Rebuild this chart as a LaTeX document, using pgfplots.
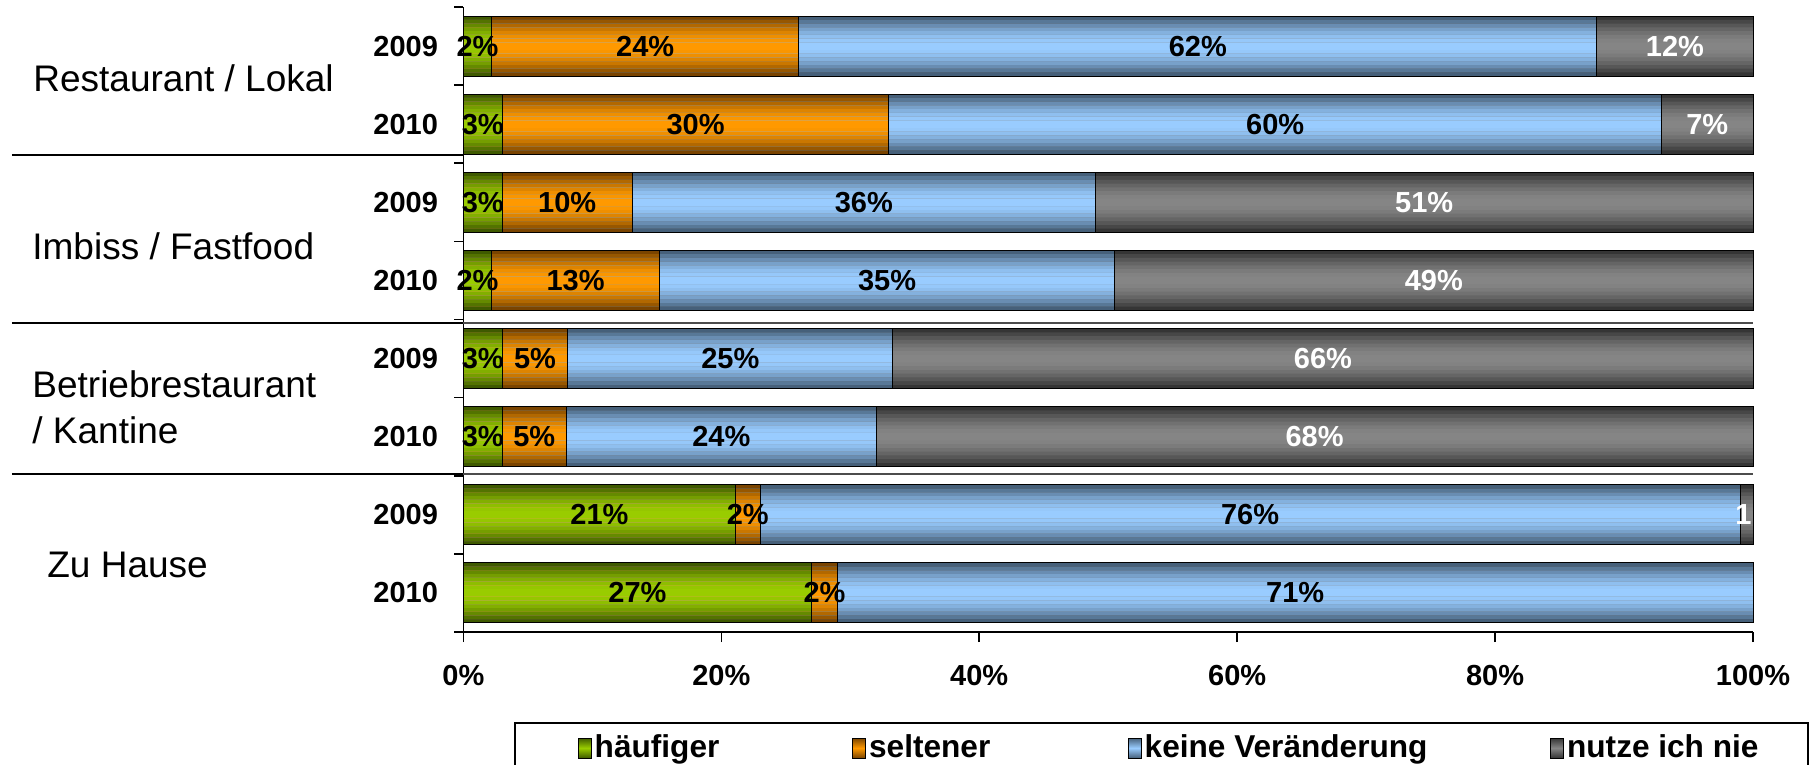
\documentclass[border=0pt]{standalone}
\usepackage{fontspec}
\setmainfont{Liberation Sans}
\usepackage{pgfplots}
\usepackage{pgfplotstable}
\pgfplotsset{compat=1.18}
\definecolor{gD}{HTML}{3F5A00}\definecolor{gM}{HTML}{99CC00}
\definecolor{oD}{HTML}{7A4400}\definecolor{oM}{HTML}{FF9900}
\definecolor{bD}{HTML}{46607A}\definecolor{bM}{HTML}{99CCFF}
\definecolor{kD}{HTML}{353535}\definecolor{kM}{HTML}{858585}
\newcommand\lbl{\bfseries\fontsize{14.5}{16}\selectfont}
\newcommand\cat{\fontsize{18.5}{23}\selectfont}

\pgfplotstableread{
y g o b n
0 2.2 23.8 61.9 12.1
1 3.0 30.0 59.9 7.1
2 3.0 10.1 35.9 51.0
3 2.2 13.0 35.3 49.5
4 3.0 5.1 25.2 66.7
5 3.0 5.0 24.0 68.0
6 21.1 1.9 76.0 1.0
7 27.0 2.0 71.0 0.0
}\bars

\pgfplotstableread{
x y l
1.1 0 2
14.1 0 24
56.95 0 62
1.5 1 3
18.0 1 30
62.95 1 60
1.5 2 3
8.05 2 10
31.05 2 36
1.1 3 2
8.7 3 13
32.85 3 35
1.5 4 3
5.55 4 5
20.7 4 25
1.5 5 3
5.5 5 5
20.0 5 24
10.55 6 21
22.05 6 2
61.0 6 76
13.5 7 27
28.0 7 2
64.5 7 71
}\blacklabels

\pgfplotstableread{
x y l
93.95 0 12
96.45 1 7
74.5 2 51
75.25 3 49
66.65 4 66
66.0 5 68
}\whitelabels

\pgfplotstableread{
x y l
99.25 6 1
}\onelabel

\pgfplotsset{
  seg/.style={forget plot, xbar, bar shift=0pt, bar width=#1, draw=none},
  barlbl/.style={forget plot, only marks, mark=none,
    point meta=explicit symbolic, nodes near coords={\pgfplotspointmeta\%},
    every node near coord/.append style={anchor=center, font=\lbl, inner sep=0pt}},
}
% one gradient layer: bar width, percentage of the bright colour
\newcommand\layer[2]{%
\addplot[seg=#1, fill=kM!#2!kD] table[x expr=\thisrow{g}+\thisrow{o}+\thisrow{b}+\thisrow{n}, y=y] {\bars};
\addplot[seg=#1, fill=bM!#2!bD] table[x expr=\thisrow{g}+\thisrow{o}+\thisrow{b}, y=y] {\bars};
\addplot[seg=#1, fill=oM!#2!oD] table[x expr=\thisrow{g}+\thisrow{o}, y=y] {\bars};
\addplot[seg=#1, fill=gM!#2!gD] table[x=g, y=y] {\bars};
}
\newcommand\legimg[2]{\addlegendimage{legend image code/.code={\draw[draw=black, line width=0.4pt, top color=#1, bottom color=#1, middle color=#2] (0pt,-5pt) rectangle (6.5pt,5pt);}}}

\begin{document}
\begin{tikzpicture}
\path[use as bounding box] (-231.7pt,-66.5pt) rectangle (674.3pt,316pt);
\begin{axis}[
  at={(0,0)}, anchor=south west,
  scale only axis, width=644.8pt, height=312.5pt,
  xmin=0, xmax=100, ymin=-0.5, ymax=7.5, y dir=reverse,
  axis x line*=bottom, axis y line*=left,
  axis line style={line width=0.8pt, black},
  xtick={0,20,...,100}, xticklabels={0\%,20\%,40\%,60\%,80\%,100\%},
  ytick={0,...,7}, yticklabels={2009,2010,2009,2010,2009,2010,2009,2010},
  minor ytick={-0.5,0.5,...,7.5},
  tick align=outside, major tick length=5pt, minor tick length=4.5pt,
  every major y tick/.append style={draw=none},
  tick style={black, line width=0.8pt},
  ticklabel style={font=\lbl, inner sep=0pt},
  xticklabel style={yshift=-11.5pt},
  yticklabel style={xshift=-7.5pt},
  clip=false,
  legend columns=4,
  legend style={at={(0.0885,-0.1856)}, anchor=west, draw=none, fill=none,
    inner sep=0pt, font=\bfseries\fontsize{15.8}{17}\selectfont,
    /tikz/every even column/.append style={column sep=0pt},
    nodes={inner xsep=1.5pt, inner ysep=0pt}},
]
\legimg{gD}{gM}\addlegendentry{\makebox[127.3pt][l]{häufiger}}
\legimg{oD}{oM}\addlegendentry{\makebox[127.9pt][l]{seltener}}
\legimg{bD}{bM}\addlegendentry{\makebox[201.3pt][l]{keine Veränderung}}
\legimg{kD}{kM}\addlegendentry{nutze ich nie}
% gradient layers (outer dark -> inner bright)
\layer{0.768}{0}
\layer{0.672}{22}
\layer{0.576}{42}
\layer{0.480}{60}
\layer{0.384}{75}
\layer{0.288}{88}
\layer{0.192}{96}
\layer{0.096}{100}
% outlines
\addplot[seg=0.768, draw=black, line width=0.5pt, fill=none] table[x expr=\thisrow{g}+\thisrow{o}+\thisrow{b}+\thisrow{n}, y=y] {\bars};
\addplot[seg=0.768, draw=black, line width=0.5pt, fill=none] table[x expr=\thisrow{g}+\thisrow{o}+\thisrow{b}, y=y] {\bars};
\addplot[seg=0.768, draw=black, line width=0.5pt, fill=none] table[x expr=\thisrow{g}+\thisrow{o}, y=y] {\bars};
\addplot[seg=0.768, draw=black, line width=0.5pt, fill=none] table[x=g, y=y] {\bars};
% value labels
\addplot[barlbl, every node near coord/.append style={text=black}] table[x=x, y=y, meta=l] {\blacklabels};
\addplot[barlbl, every node near coord/.append style={text=white}] table[x=x, y=y, meta=l] {\whitelabels};
\addplot[barlbl, nodes near coords={\pgfplotspointmeta}, every node near coord/.append style={text=white}] table[x=x, y=y, meta=l] {\onelabel};
\end{axis}
% group separators
\draw[line width=0.8pt] (-225.7pt,238.5pt) -- (0pt,238.5pt);
\draw[line width=0.8pt] (-225.7pt,154.5pt) -- (0pt,154.5pt);
\draw[line width=0.8pt, black!70] (0pt,154.5pt) -- (644.8pt,154.5pt);
\draw[line width=0.8pt] (-225.7pt,79pt) -- (0pt,79pt);
\draw[line width=0.8pt, black!70] (0pt,79pt) -- (644.8pt,79pt);
% category labels
\node[anchor=west, inner sep=0pt, font=\cat] at (-215.2pt,277pt) {Restaurant / Lokal};
\node[anchor=west, inner sep=0pt, font=\cat] at (-215.7pt,193pt) {Imbiss / Fastfood};
\node[anchor=west, inner sep=0pt, font=\cat, align=left] at (-215.7pt,112.5pt) {Betriebrestaurant\\/ Kantine};
\node[anchor=west, inner sep=0pt, font=\cat] at (-208.2pt,33.5pt) {Zu Hause};
% legend frame
\draw[line width=0.8pt] (25.8pt,-45.5pt) rectangle (672.3pt,-90pt);
\end{tikzpicture}
\end{document}
